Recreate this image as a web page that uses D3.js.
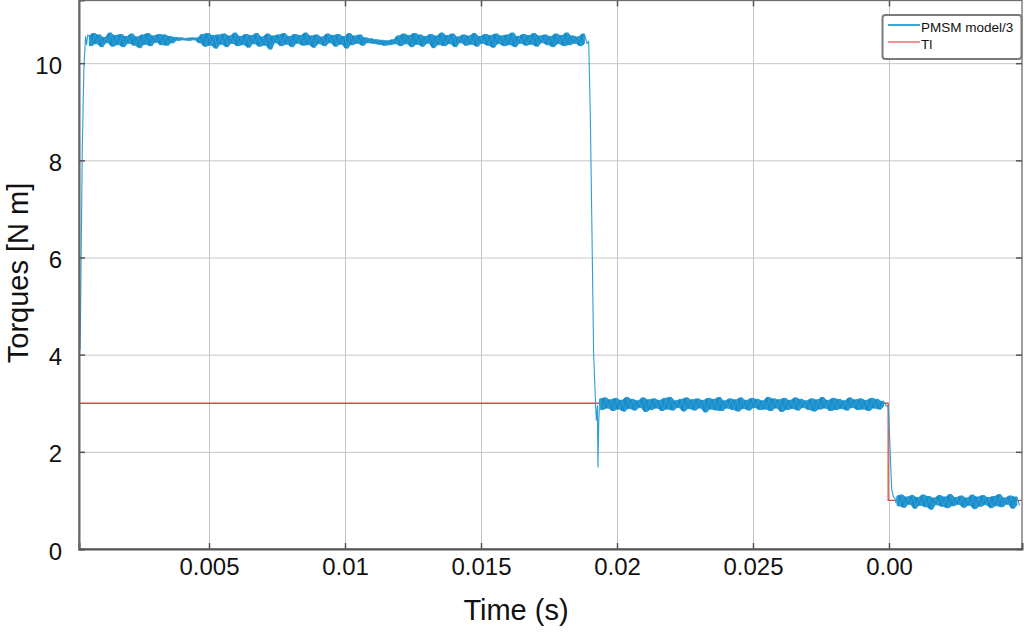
<!DOCTYPE html>
<html><head><meta charset="utf-8">
<script src="https://cdn.jsdelivr.net/npm/d3@7"></script>
<style>
html,body{margin:0;padding:0;background:#fff;}
svg{display:block;font-family:"Liberation Sans",Arial,Helvetica,sans-serif;}
</style>
</head><body>
<svg id="chart" width="1024" height="632"></svg>
<script>
// ---------- data ----------
const xTickValues = [0.005, 0.01, 0.015, 0.02, 0.025, 0.03];
const xTickLabels = ["0.005", "0.01", "0.015", "0.02", "0.025", "0.00"];
const yTickValues = [0, 2, 4, 6, 8, 10];
const yTickLabels = ["0", "2", "4", "6", "8", "10"];
const seriesNames = ["PMSM model/3", "Tl"];
const timeDomain = [0.00022, 0.03489];
const torqueDomain = [0, 11.3];

const sampleStep = 0.0001;

// start-up rise
const riseTime   = [0.00022, 0.00024, 0.00026, 0.00028, 0.00034, 0.00040, 0.00046, 0.00050, 0.00054];
const riseTorque = [3.25,    4.9,     4.1,     5.0,     8.2,     9.9,     10.55,   10.38,   10.58];

// first plateau (sampled every sampleStep from plateau1Start)
const plateau1Start = 0.0006;
const plateau1Torque = [
10.56,10.36,10.61,10.40,10.58,10.34,10.53,10.42,10.62,10.35,
10.57,10.38,10.59,10.34,10.55,10.41,10.60,10.37,10.54,10.32,
10.58,10.39,10.61,10.36,10.56,10.43,10.59,10.38,10.58,10.37,
10.55,10.42,10.53,10.47,10.52,10.48,10.51,10.47,10.52,10.48,
10.52,10.42,10.59,10.35,10.61,10.37,10.57,10.31,10.58,10.39,
10.60,10.34,10.56,10.41,10.62,10.36,10.55,10.38,10.59,10.33,
10.57,10.40,10.61,10.35,10.54,10.37,10.60,10.29,10.56,10.42,
10.58,10.36,10.61,10.39,10.55,10.34,10.59,10.41,10.57,10.37,
10.62,10.38,10.56,10.33,10.58,10.40,10.54,10.36,10.60,10.42,
10.57,10.35,10.59,10.39,10.55,10.31,10.61,10.38,10.56,10.41,
10.58,10.37,10.52,10.42,10.50,10.41,10.48,10.39,10.47,10.37,
10.46,10.38,10.48,10.40,10.56,10.36,10.60,10.40,10.57,10.34,
10.61,10.39,10.58,10.35,10.55,10.41,10.59,10.32,10.56,10.38,
10.62,10.36,10.57,10.40,10.60,10.34,10.54,10.42,10.58,10.37,
10.56,10.39,10.61,10.35,10.55,10.41,10.59,10.37,10.57,10.33,
10.60,10.40,10.56,10.36,10.58,10.38,10.62,10.34,10.55,10.41,
10.59,10.37,10.57,10.39,10.61,10.35,10.56,10.42,10.58,10.38,
10.55,10.34,10.60,10.40,10.57,10.36,10.62,10.38,10.56,10.41,
10.54,10.36,10.60,10.40
];

// first drop
const drop1Time   = [0.01896, 0.01902, 0.01906, 0.01914, 0.01921, 0.01924, 0.01928, 0.01930, 0.01933, 0.01936];
const drop1Torque = [10.45,   8.9,     7.3,     4.05,    3.0,     2.65,    2.95,    1.69,    2.6,     3.08];

// second plateau
const plateau2Start = 0.0194;
const plateau2Torque = [
3.09,2.87,3.11,2.90,3.07,2.85,3.10,2.88,3.06,2.84,
3.12,2.89,3.08,2.86,3.05,2.91,3.11,2.83,3.07,2.87,
3.09,2.90,3.06,2.85,3.10,2.88,3.12,2.86,3.05,2.91,
3.08,2.84,3.11,2.89,3.07,2.86,3.09,2.90,3.06,2.82,
3.10,2.88,3.08,2.86,3.12,2.85,3.05,2.90,3.09,2.87,
3.07,2.84,3.11,2.89,3.06,2.86,3.10,2.91,3.08,2.87,
3.05,2.88,3.12,2.85,3.09,2.90,3.07,2.83,3.10,2.87,
3.06,2.89,3.11,2.86,3.08,2.91,3.05,2.87,3.09,2.84,
3.07,2.88,3.12,2.90,3.06,2.85,3.10,2.87,3.08,2.89,
3.05,2.86,3.11,2.91,3.07,2.87,3.09,2.88,3.06,2.85,
3.10,2.90,3.08,2.88,3.04,2.94
];

// second drop
const drop2Time   = [0.02996, 0.02999, 0.03006, 0.03010, 0.03016, 0.03022, 0.03026];
const drop2Torque = [2.95,    2.78,    1.77,    1.22,    1.08,    1.04,    0.95];

// third plateau
const plateau3Start = 0.0303;
const plateau3Torque = [
1.09,0.89,1.11,0.86,1.07,0.92,1.10,0.84,1.06,0.90,
1.11,0.87,1.08,0.82,1.05,0.91,1.10,0.88,1.07,0.85,
1.12,0.89,1.06,0.92,1.09,0.86,1.05,0.90,1.11,0.83,
1.07,0.88,1.10,0.91,1.06,0.85,1.08,0.89,1.12,0.87,
1.05,0.92,1.09,0.84,1.07,0.90
];

// load torque Tl
const loadTime   = [0.00022, 0.02997, 0.02997, 0.03489];
const loadTorque = [3, 3, 1, 1];

// ---------- build series ----------
function pairs(ts, vs) { return ts.map((t, i) => ({ t: t, v: vs[i] })); }
function sampled(t0, vs) { return vs.map((v, i) => ({ t: t0 + i * sampleStep, v: v })); }

const plateaus = [
  sampled(plateau1Start, plateau1Torque),
  sampled(plateau2Start, plateau2Torque),
  sampled(plateau3Start, plateau3Torque)
];
const pmsmSeries = [].concat(
  pairs(riseTime, riseTorque),
  plateaus[0],
  pairs(drop1Time, drop1Torque),
  plateaus[1],
  pairs(drop2Time, drop2Torque),
  plateaus[2]
);
const loadSeries = pairs(loadTime, loadTorque);
// band covered by the oscillation between consecutive samples
function swept(p) {
  return p.slice(0, -1).map((d, i) => ({
    t: d.t, lo: Math.min(d.v, p[i + 1].v), hi: Math.max(d.v, p[i + 1].v)
  }));
}

// ---------- layout ----------
const svg = d3.select("#chart");
const L = 79, R = 1022, T = 0.5, B = 549;
const x = d3.scaleLinear().domain(timeDomain).range([L, R]);
const y = d3.scaleLinear().domain(torqueDomain).range([B, 0]);

svg.append("defs").append("clipPath").attr("id", "clip")
  .append("rect").attr("x", L).attr("y", T).attr("width", R - L).attr("height", B - T);

// grid
const grid = svg.append("g").attr("class", "grid");
grid.append("g").attr("transform", `translate(0,${B})`)
  .call(d3.axisBottom(x).tickValues(xTickValues).tickSize(-(B - T)).tickFormat(""))
  .call(g => g.select(".domain").remove())
  .call(g => g.selectAll("line").attr("stroke", "#c6c6c6").attr("stroke-width", 1));
grid.append("g").attr("transform", `translate(${L},0)`)
  .call(d3.axisLeft(y).tickValues(yTickValues).tickSize(-(R - L)).tickFormat(""))
  .call(g => g.select(".domain").remove())
  .call(g => g.selectAll("line").attr("stroke", "#c6c6c6").attr("stroke-width", 1));

// data
const line = d3.line().x(d => x(d.t)).y(d => y(d.v));
const area = d3.area().x(d => x(d.t)).y0(d => y(d.lo)).y1(d => y(d.hi));
const plot = svg.append("g").attr("clip-path", "url(#clip)");
plot.append("path").datum(loadSeries).attr("d", line)
  .attr("fill", "none").attr("stroke", "#e3453f").attr("stroke-width", 1.3);
plateaus.forEach(p => {
  plot.append("path").datum(swept(p)).attr("d", area)
    .attr("fill", "#1a8bc7").attr("stroke", "#2296d0").attr("stroke-width", 1)
    .attr("stroke-linejoin", "round");
});
plot.append("path").datum(pmsmSeries).attr("d", line)
  .attr("fill", "none").attr("stroke", "#2a9ed5").attr("stroke-width", 1.1)
  .attr("stroke-linejoin", "round");

// frame
svg.append("rect").attr("x", L).attr("y", T).attr("width", R - L).attr("height", B - T)
  .attr("fill", "none").attr("stroke", "#6e6e6e").attr("stroke-width", 1.3);

// axes with inner ticks and labels
const xAxis = svg.append("g").attr("transform", `translate(0,${B})`)
  .call(d3.axisBottom(x).tickValues(xTickValues).tickSize(-6).tickPadding(9)
    .tickFormat((d, i) => xTickLabels[i]));
xAxis.select(".domain").attr("stroke", "#555").attr("stroke-width", 2);
xAxis.selectAll("line").attr("stroke", "#555").attr("stroke-width", 1.5);
xAxis.selectAll("text").attr("fill", "#111").style("font-size", "24px");

const yAxis = svg.append("g").attr("transform", `translate(${L},0)`)
  .call(d3.axisLeft(y).tickValues(yTickValues).tickSize(-6).tickPadding(17)
    .tickFormat((d, i) => yTickLabels[i]));
yAxis.select(".domain").attr("stroke", "#666").attr("stroke-width", 2);
yAxis.selectAll("line").attr("stroke", "#555").attr("stroke-width", 1.5);
yAxis.selectAll("text").attr("fill", "#111").style("font-size", "24px").attr("dy", "0.42em");

// top and right ticks
svg.append("g").attr("transform", `translate(0,${T})`)
  .call(d3.axisTop(x).tickValues(xTickValues).tickSize(-6).tickFormat(""))
  .call(g => g.select(".domain").remove())
  .call(g => g.selectAll("line").attr("stroke", "#555").attr("stroke-width", 1.5));
svg.append("g").attr("transform", `translate(${R},0)`)
  .call(d3.axisRight(y).tickValues(yTickValues).tickSize(-6).tickFormat(""))
  .call(g => g.select(".domain").remove())
  .call(g => g.selectAll("line").attr("stroke", "#555").attr("stroke-width", 1.5));

// axis titles
svg.append("text").attr("x", 516).attr("y", 620).attr("text-anchor", "middle")
  .style("font-size", "29px").attr("fill", "#111").text("Time (s)");
svg.append("text").attr("transform", "translate(28,273) rotate(-90)").attr("text-anchor", "middle")
  .style("font-size", "29px").attr("fill", "#111").text("Torques [N m]");

// legend
const lg = svg.append("g");
lg.append("rect").attr("x", 882.5).attr("y", 15).attr("width", 139).attr("height", 44).attr("rx", 3)
  .attr("fill", "#fff").attr("stroke", "#7a7a7a").attr("stroke-width", 2);
const legendColors = ["#3aa6d6", "#f29393"];
const legendY = [25, 42];
seriesNames.forEach((name, i) => {
  lg.append("line").attr("x1", 888).attr("x2", 920).attr("y1", legendY[i]).attr("y2", legendY[i])
    .attr("stroke", legendColors[i]).attr("stroke-width", 2);
  lg.append("text").attr("x", 921).attr("y", legendY[i] + 6.5)
    .style("font-size", "13.5px").attr("fill", "#111").text(name);
});
</script>
</body></html>
